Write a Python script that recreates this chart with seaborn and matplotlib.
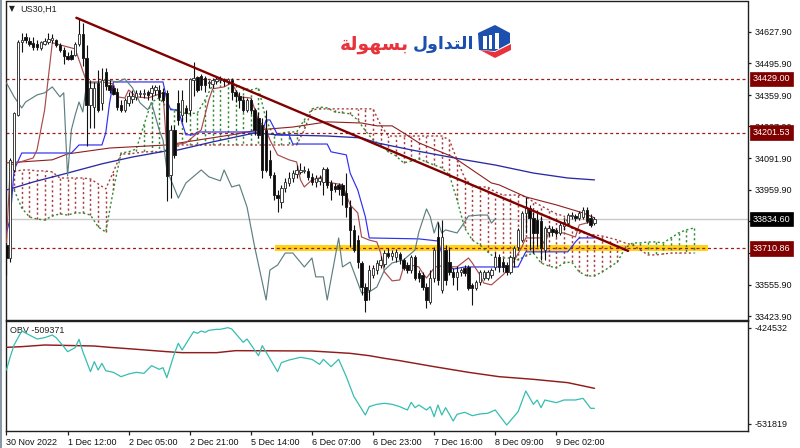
"""
US30 H1 chart: candles, Ichimoku lines and cloud, two moving averages, OBV pane
"""
import matplotlib
matplotlib.use('Agg')
import matplotlib.pyplot as plt
from matplotlib.patches import Polygon, Rectangle
import seaborn as sns

# Candles, one value per hourly bar
opens = [33725,33670,34043,34276,34586,34607,34590,34582,34577,34560,34577,34586,34594,34594,34573,34552,34527,34531,34531,34577,34620,34518,34319,34310,34412,34327,34459,34404,34391,34374,34319,34298,34327,34344,34353,34365,34365,34374,34370,34382,34382,34374,34370,34022,34213,34327,34276,34306,34298,34425,34437,34442,34433,34412,34408,34421,34425,34425,34421,34425,34374,34357,34340,34298,34340,34298,34264,34234,34213,34086,34022,33937,33908,33967,33988,34009,34026,34035,34039,34039,34014,33992,33997,33992,34047,33988,33975,33980,33980,33946,33886,33789,33746,33649,33547,33534,33598,33619,33640,33645,33691,33679,33674,33687,33662,33640,33619,33674,33606,33598,33547,33483,33585,33759,33534,33704,33653,33611,33590,33611,33628,33632,33556,33543,33568,33585,33585,33598,33632,33674,33653,33640,33611,33674,33717,33746,33861,33882,33840,33831,33827,33704,33780,33793,33789,33776,33806,33818,33848,33848,33840,33844,33874,33840,33818]
highs = [33734,34094,34289,34594,34624,34624,34607,34607,34594,34590,34603,34624,34620,34599,34582,34565,34543,34552,34586,34688,34666,34573,34425,34416,34467,34476,34476,34425,34404,34391,34340,34348,34374,34382,34382,34382,34387,34382,34404,34404,34404,34391,34382,34234,34230,34382,34382,34319,34433,34501,34442,34450,34442,34425,34433,34437,34442,34433,34433,34433,34382,34374,34357,34348,34348,34306,34289,34264,34298,34128,34035,33958,33980,34009,34035,34043,34064,34073,34060,34052,34030,34022,34022,34056,34056,34001,33988,33988,33988,34030,33916,33810,33768,33657,33564,33640,33640,33662,33679,33704,33712,33704,33708,33696,33670,33653,33683,33683,33619,33611,33564,33619,33717,33823,33831,33725,33717,33628,33636,33628,33640,33640,33564,33577,33619,33619,33619,33628,33696,33687,33670,33653,33683,33721,33797,33869,33929,33895,33865,33874,33848,33806,33810,33806,33797,33823,33835,33861,33865,33857,33869,33886,33886,33857,33844]
lows = [33598,33653,34035,34272,34543,34582,34569,34552,34552,34552,34573,34577,34582,34565,34543,34493,34510,34510,34527,34569,34484,34145,34221,34221,34289,34298,34382,34370,34361,34298,34289,34289,34315,34327,34340,34353,34348,34340,34340,34361,34340,34331,33912,33924,34094,34234,34247,34247,34276,34357,34374,34382,34374,34391,34391,34408,34412,34399,34408,34340,34331,34306,34289,34289,34281,34192,34179,34009,34035,34009,33916,33865,33882,33950,33975,33992,34009,34026,34030,34001,33980,33971,33980,33937,33967,33916,33950,33937,33895,33844,33717,33696,33628,33513,33441,33492,33585,33602,33628,33632,33670,33662,33653,33645,33619,33606,33606,33577,33568,33534,33458,33475,33568,33556,33522,33556,33598,33556,33534,33594,33594,33534,33471,33534,33556,33577,33577,33585,33619,33611,33611,33598,33602,33632,33704,33738,33776,33704,33691,33717,33662,33662,33763,33763,33759,33768,33789,33810,33835,33827,33831,33835,33818,33802,33810]
closes = [33670,34086,34285,34586,34594,34594,34577,34565,34565,34586,34590,34599,34603,34573,34552,34527,34514,34514,34577,34620,34518,34319,34391,34391,34298,34425,34399,34382,34365,34310,34298,34340,34357,34357,34370,34370,34370,34361,34391,34395,34353,34340,34018,34213,34107,34255,34340,34285,34429,34433,34382,34404,34404,34416,34425,34429,34433,34421,34429,34374,34357,34340,34298,34340,34298,34213,34192,34043,34043,34022,33937,33924,33967,33992,34009,34030,34043,34043,34043,34014,33992,34009,34009,34047,33980,33958,33963,33963,33937,33886,33789,33704,33653,33547,33492,33619,33628,33649,33662,33691,33679,33691,33696,33666,33628,33619,33674,33585,33585,33547,33492,33585,33704,33577,33759,33577,33611,33590,33611,33619,33606,33543,33543,33568,33611,33611,33611,33619,33674,33632,33632,33611,33674,33712,33789,33861,33886,33840,33776,33776,33712,33797,33797,33780,33776,33810,33823,33852,33852,33840,33861,33874,33827,33810,33835]

# Ichimoku conversion and base lines, chikou span
tenkan_idx = [0,1,7,8,10,12,18,21,25,28,29,31,32,34,37,41,42,44,47,51,53,54,57,59,61,64,66,68,69,71,74,76,77,78,80,83,84,88,90,92,93,95,97,98,99,101,103,104,106,108,109,110,112,113,118,121,122,124,125,127,130,132,135,136,140,141,142,146,149,150,153,154]
tenkan = [33734,34064,34094,34128,34298,34582,34556,34416,34416,34408,34353,34348,34382,34353,34348,34370,34128,34149,34158,34213,34340,34387,34395,34412,34353,34348,34255,34213,34170,34107,34086,34077,34001,33971,34001,34014,33992,33980,33895,33861,33759,33746,33738,33691,33611,33573,33577,33632,33640,33632,33606,33585,33628,33636,33632,33670,33649,33598,33564,33556,33598,33632,33717,33755,33755,33725,33780,33776,33759,33810,33823,33831]
kijun_idx = [0,1,2,4,17,19,25,26,27,28,41,42,43,45,46,47,49,50,67,68,69,71,74,75,84,85,89,90,92,94,95,108,113,114,116,117,120,134,136,147,149,150,154]
kijun = [33776,33840,34043,34115,34115,34149,34149,34200,34327,34416,34416,34340,34298,34298,34242,34192,34192,34204,34204,34255,34255,34192,34192,34153,34153,34120,34107,34030,33958,33844,33755,33751,33742,33691,33640,33623,33632,33632,33696,33696,33738,33755,33755]
chikou_idx = [0,2,4,5,8,10,12,14,15,16,17,18,19,20,21,24,26,29,31,33,35,37,38,40,41,42,45,47,51,53,56,57,59,61,63,65,68,69,71,73,75,78,80,81,83,84,87,88,90,93,95,97,99,101,104,107,108,110,111,112,113,114,115,118,120,121,124,126,127,128]
chikou = [34412,34353,34306,34331,34361,34370,34395,34353,34370,34018,34213,34276,34331,34289,34412,34412,34425,34416,34429,34391,34327,34298,34327,34213,34170,34043,33924,33988,34043,34014,33997,34043,33971,33980,33886,33717,33492,33619,33640,33691,33691,33632,33670,33590,33590,33492,33755,33632,33653,33522,33526,33547,33619,33649,33662,33704,33780,33878,33844,33776,33823,33776,33789,33776,33823,33848,33852,33852,33818,33835]

# Cloud, one hatch line every second bar
span_idx = list(range(2, 182, 2))
span_a = [33958,33882,33844,33835,33831,33848,33857,33852,33861,33861,33852,33802,33780,33958,34115,34120,34132,34234,34331,34348,34306,34298,34285,34281,34285,34340,34404,34425,34416,34404,34391,34382,34391,34255,34187,34200,34204,34204,34255,34302,34310,34306,34289,34285,34281,34255,34209,34170,34149,34120,34103,34073,34081,34090,34077,34064,34052,34022,33916,33797,33746,33725,33696,33670,33670,33670,33662,33679,33691,33649,33636,33628,33649,33653,33611,33594,33594,33611,33632,33653,33712,33734,33734,33738,33738,33734,33755,33776,33789,33797]
span_b = [34035,34043,34043,34039,34039,34035,34009,34009,34009,34009,34005,33984,33963,34035,34111,34111,34115,34120,34120,34120,34128,34141,34149,34149,34149,34149,34149,34149,34149,34149,34149,34149,34149,34149,34149,34149,34149,34149,34213,34298,34302,34302,34302,34302,34302,34302,34302,34302,34234,34187,34187,34187,34187,34187,34187,34187,34187,34170,34086,34009,33975,33971,33971,33950,33937,33937,33937,33929,33908,33891,33874,33857,33848,33797,33780,33772,33768,33763,33755,33746,33734,33725,33704,33683,33683,33687,33691,33691,33691,33691]

# Moving averages
ma_red_idx = [0,12,16,27,42,47,59,66,75,84,93,97,101,104,108,117,122,127,129,136,144,151,154]
ma_red = [34073,34086,34111,34136,34149,34162,34192,34213,34225,34247,34242,34230,34230,34200,34158,34098,34043,33988,33980,33929,33895,33861,33840]
ma_blue_idx = [0,7,16,25,33,42,45,54,65,71,84,93,97,106,116,120,128,138,147,154]
ma_blue = [33958,33992,34030,34069,34098,34124,34128,34162,34200,34192,34187,34179,34158,34128,34098,34086,34064,34030,34009,34001]

# OBV pane
obv_idx = [0,1,2,4,6,8,10,12,13,15,16,18,19,20,22,23,24,25,26,28,30,32,34,36,38,40,41,42,44,45,46,49,50,51,52,53,55,56,58,59,62,63,66,67,71,72,74,77,80,82,83,85,87,89,91,94,95,97,99,101,103,105,106,107,108,110,111,112,113,114,115,117,118,120,122,124,126,128,131,134,136,138,139,140,141,144,146,149,151,153,154]
obv = [-471470,-456570,-443530,-427880,-432350,-436820,-435330,-432350,-435330,-445390,-450980,-446510,-437200,-450980,-473330,-462150,-471470,-464020,-472210,-474070,-478920,-475940,-474070,-475190,-466620,-470720,-468860,-480030,-452840,-441670,-449120,-428630,-430490,-427880,-429370,-427140,-426020,-426020,-424160,-425650,-440550,-436820,-455450,-444270,-473330,-463270,-460290,-457310,-459550,-465130,-459550,-467740,-459550,-478920,-501270,-521750,-512440,-509830,-508720,-509830,-512440,-516170,-507600,-513560,-510580,-516170,-512440,-523620,-510580,-521750,-513560,-528460,-521010,-518770,-522500,-520640,-519890,-516170,-532930,-518030,-494930,-509830,-504990,-513560,-504990,-507970,-504990,-504990,-503130,-514300,-514300]
obv_ma_idx = [0,4,10,23,27,33,42,46,55,60,80,90,95,99,103,107,112,121,129,138,147,154]
obv_ma = [-446140,-445390,-443530,-444650,-446140,-448000,-450980,-452100,-452100,-449860,-450230,-452840,-455450,-458430,-461040,-464020,-467740,-474070,-478920,-481900,-485620,-491950]

# Axis labels and levels
time_ticks = [0, 16, 32, 48, 64, 80, 96, 112, 128, 144]
time_labels = ['30 Nov 2022', '1 Dec 12:00', '2 Dec 05:00', '2 Dec 21:00', '5 Dec 14:00',
               '6 Dec 07:00', '6 Dec 23:00', '7 Dec 16:00', '8 Dec 09:00', '9 Dec 02:00']
price_ticks = [34627.90, 34495.90, 34359.90, 34227.90, 34091.90, 33959.90, 33827.90, 33691.90, 33555.90, 33423.90]
levels = [34429.00, 34201.53, 33710.86]
last_price = 33834.60
obv_ticks = [-424532, -531819]
trend_idx = [18.3, 162.8]
trend_price = [34688, 33700]
band_idx = [70.4, 183.8]
band_low, band_high = 33700, 33725

sns.set_theme(style='white')
plt.rcParams['font.family'] = ['Liberation Sans', 'DejaVu Sans']

W, H = 800, 448
fig = plt.figure(figsize=(W / 100, H / 100), dpi=100, facecolor='white')
ax = fig.add_axes([5.7 / W, 1 - 319.7 / H, (748 - 5.7) / W, (319.7 - 1.5) / H])
ax2 = fig.add_axes([5.7 / W, 1 - 431 / H, (748 - 5.7) / W, (431 - 321) / H])

DARK_RED = '#800000'
GREEN = '#2e8b2e'
BROWN = '#a83c3c'
DOT = (0, (1.5, 1.8))
FS = 6.5


def line(target, x, y, color, lw, style='-', z=4):
    sns.lineplot(x=x, y=y, color=color, linewidth=lw, linestyle=style, estimator=None,
                 sort=False, legend=False, ax=target, zorder=z)


# cloud hatch and edges
hatch_colors = [GREEN if a > b else BROWN for a, b in zip(span_a, span_b)]
ax.vlines(span_idx, span_a, span_b, colors=hatch_colors, linewidth=1.05, linestyles=[DOT], zorder=2)
line(ax, span_idx, span_a, GREEN, 1.0, DOT, 2)
line(ax, span_idx, span_b, BROWN, 1.0, DOT, 2)

# levels
ax.axhline(last_price, color='#c8c8c8', linewidth=1.0, zorder=1)
ax.fill_between(band_idx, band_low, band_high, color='#ffd21a', linewidth=0, zorder=1.5)
for lev in levels:
    ax.axhline(lev, color='#9a1c1c', linewidth=0.9, linestyle=(0, (2.4, 2.2)), zorder=2.5)

# moving averages and Ichimoku
line(ax, ma_blue_idx, ma_blue, '#2a2aa8', 0.95)
line(ax, ma_red_idx, ma_red, '#8f1f1f', 0.8)
line(ax, kijun_idx, kijun, '#2f2ff0', 0.85)
line(ax, tenkan_idx, tenkan, '#a84a4a', 0.85)
line(ax, chikou_idx, chikou, '#5e7f80', 0.85)

# candles
ups = [i for i in range(len(opens)) if closes[i] >= opens[i]]
downs = [i for i in range(len(opens)) if closes[i] < opens[i]]
ax.vlines(range(len(opens)), lows, highs, color='#111111', linewidth=0.8, zorder=5)
ax.bar(ups, [closes[i] - opens[i] for i in ups], bottom=[opens[i] for i in ups], width=0.62,
       facecolor='white', edgecolor='#404040', linewidth=0.7, zorder=6)
ax.bar(downs, [opens[i] - closes[i] for i in downs], bottom=[closes[i] for i in downs], width=0.62,
       facecolor='#0a0a0a', edgecolor='#202020', linewidth=0.7, zorder=6)

line(ax, trend_idx, trend_price, DARK_RED, 1.7, '-', 7)

# OBV
line(ax2, obv_ma_idx, obv_ma, '#901c1c', 1.05)
line(ax2, obv_idx, obv, '#35bdb2', 0.9)

for a in (ax, ax2):
    a.set_xlim(-0.2, 194.2)
    a.yaxis.tick_right()
    a.set_xlabel('')
    a.set_ylabel('')
    for s in a.spines.values():
        s.set_linewidth(1.0)
        s.set_color('#202020')
    a.tick_params(axis='y', which='major', length=2.5, width=0.9, color='#202020', pad=2.5,
                  labelsize=FS, labelcolor='#111111', right=True, left=False)

ax.set_ylim(33408.5, 34757)
ax.set_yticks(price_ticks)
ax.set_yticklabels([f'{p:.2f}' for p in price_ticks])
ax.set_xticks([])

ax2.set_ylim(-539645, -416709)
ax2.set_yticks(obv_ticks)
ax2.set_yticklabels([str(v) for v in obv_ticks])
ax2.set_xticks(time_ticks)
ax2.set_xticklabels(time_labels, ha='left')
ax2.tick_params(axis='x', length=3, width=0.9, color='#202020', pad=2, labelsize=FS,
                labelcolor='#111111', bottom=True)

# price boxes on the right scale
trans = ax.get_yaxis_transform()
for lev, box in [(levels[0], DARK_RED), (levels[1], DARK_RED), (last_price, 'black'), (levels[2], DARK_RED)]:
    ax.text(1.0061, lev, f'{lev:.2f}', transform=trans, ha='left', va='center', color='white', fontsize=FS,
            clip_on=False, zorder=20,
            bbox=dict(boxstyle='square,pad=0.3', facecolor=box, edgecolor=box, linewidth=0.5))

# chart captions
ax.text(12 / W, 1 - 9 / H, '\u25bc', transform=fig.transFigure, ha='center', va='center',
        fontsize=5.5, color='#222222', family='DejaVu Sans')
ax.text(20.5 / W, 1 - 9 / H, 'US30,H1', transform=fig.transFigure, ha='left', va='center',
        fontsize=FS, color='#222222')
ax2.text(9.5 / W, 1 - 330 / H, 'OBV -509371', transform=fig.transFigure, ha='left', va='center',
         fontsize=FS, color='#222222')

# brand, Arabic written in shaped forms and visual order
brand_blue = '\ufedd\ufeed\ufe8d\ufeaa\ufe98\ufedf\ufe8d'
brand_red = '\ufe94\ufedf\ufeee\ufeec\ufeb4\ufe91'
fig.text(443 / W, 1 - 44 / H, brand_blue, ha='center', va='center', fontsize=12.5, fontweight='bold',
         color='#1c4fae', family='DejaVu Sans')
fig.text(374 / W, 1 - 44 / H, brand_red, ha='center', va='center', fontsize=13.5, fontweight='bold',
         color='#e8323c', family='DejaVu Sans')


def px_poly(pts, color):
    fig.add_artist(Polygon([(x / W, 1 - y / H) for x, y in pts], closed=True, facecolor=color,
                           edgecolor='none', transform=fig.transFigure, zorder=30))


px_poly([(495, 25), (510, 33), (510, 43), (495, 51), (479, 50), (478, 33)], '#1c4fae')
px_poly([(480, 50), (495, 58), (511, 50), (511, 44), (495, 52)], '#e8323c')
for bar_x, bar_top in [(483, 36), (489, 35), (495, 33)]:
    fig.add_artist(Rectangle((bar_x / W, 1 - 49 / H), 3.5 / W, (49 - bar_top) / H, facecolor='white',
                             edgecolor='none', transform=fig.transFigure, zorder=31))

# window edge on the far left
fig.add_artist(Rectangle((0, 0), 1.6 / W, 1, facecolor='#8a97a8', edgecolor='none',
                         transform=fig.transFigure, zorder=32))

plt.savefig('out.png', dpi=100)
